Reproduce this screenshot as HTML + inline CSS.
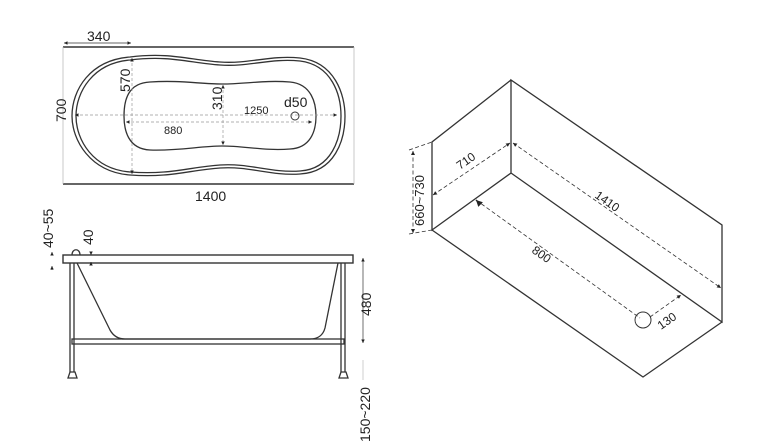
<!DOCTYPE html>
<html><head><style>
html,body{margin:0;padding:0;background:#fff;}
svg{display:block;}
text{font-family:"Liberation Sans",Arial,sans-serif;fill:#222;}
</style></head><body>
<svg width="765" height="448" viewBox="0 0 765 448" xmlns="http://www.w3.org/2000/svg">
<defs>
<marker id="ar" markerWidth="6" markerHeight="6" refX="5" refY="3" orient="auto-start-reverse"><path d="M0,0.5 L5,3 L0,5.5 z" fill="#222"/></marker>
</defs>
<g stroke="#333" fill="none" stroke-width="1.3">
<line x1="63" y1="47" x2="354" y2="47" stroke-width="1.6"/>
<line x1="63" y1="184" x2="354" y2="184" stroke-width="1.6"/>
<line x1="63" y1="47" x2="63" y2="184" stroke="#bbb" stroke-width="0.8"/>
<line x1="354" y1="47" x2="354" y2="184" stroke="#bbb" stroke-width="0.8"/>
<path d="M130,57 C170,52 190,60 220,62 C250,64 270,55 300,58 C335,62 345,95 345,116 C345,140 335,172 300,174 C270,176 250,166 220,168 C190,170 170,178 130,175 C90,172 72,140 72,116 C72,90 90,60 130,57 Z"/>
<path d="M130,60 C170,55 190,63 220,65 C250,67 270,58 300,61 C332,65 341,95 341,116 C341,138 332,169 300,171 C270,173 250,163 220,165 C190,167 170,175 130,172 C93,169 76,140 76,116 C76,92 93,63 130,60 Z"/>
<path d="M150,82 C180,80 200,84 222,84 C245,84 265,80 290,82 C312,84 316,104 316,116 C316,132 310,148 290,149 C265,151 245,146 222,146 C200,146 180,151 150,150 C128,149 124,130 124,116 C124,100 128,83 150,82 Z"/>
<circle cx="295" cy="116" r="4" stroke-width="1"/>
<g stroke="#999" stroke-width="0.7" stroke-dasharray="3,2">
<line x1="75" y1="115" x2="337" y2="115" marker-start="url(#ar)" marker-end="url(#ar)"/>
<line x1="126" y1="122" x2="312" y2="122" marker-start="url(#ar)" marker-end="url(#ar)"/>
<line x1="132" y1="58" x2="132" y2="174" marker-start="url(#ar)" marker-end="url(#ar)"/>
<line x1="223" y1="85" x2="223" y2="145" marker-start="url(#ar)" marker-end="url(#ar)"/>
</g>
<line x1="64" y1="43" x2="131" y2="43" stroke-width="0.7" marker-start="url(#ar)" marker-end="url(#ar)"/>
<rect x="63" y="255" width="290" height="8" stroke-width="1.4"/>
<path d="M72,255 C72,248 80,248 80,255"/>
<line x1="70" y1="263" x2="70" y2="372"/><line x1="74" y1="263" x2="74" y2="372"/>
<line x1="341" y1="263" x2="341" y2="372"/><line x1="345" y1="263" x2="345" y2="372"/>
<rect x="72" y="339" width="272" height="5"/>
<path d="M77,263 L110,330 Q115,339 125,339 L310,339 Q322,339 325,328 L338,263"/>
<path d="M68,378 L70,372 L75,372 L77,378 Z"/>
<path d="M339,378 L341,372 L346,372 L348,378 Z"/>
<line x1="363" y1="258" x2="363" y2="343" stroke-width="0.7" marker-start="url(#ar)" marker-end="url(#ar)"/>
<line x1="363" y1="360" x2="363" y2="380" stroke="#bbb" stroke-width="0.7"/>
<line x1="52" y1="255" x2="52" y2="252" stroke-width="0.7" marker-end="url(#ar)"/>
<line x1="52" y1="270" x2="52" y2="266" stroke-width="0.7" marker-end="url(#ar)"/>
<line x1="91" y1="252" x2="91" y2="255" stroke-width="0.7" marker-end="url(#ar)"/>
<line x1="91" y1="265" x2="91" y2="262" stroke-width="0.7" marker-end="url(#ar)"/>
<path d="M511,80 L432,142 L432,230 L511,173 L511,80 L722,225 L722,322 L511,173 M432,230 L643,377 L722,322"/>
<circle cx="643" cy="320" r="8" stroke-width="1"/>
<g stroke-width="0.8" stroke-dasharray="4,2.5">
<line x1="433" y1="195" x2="510" y2="143" marker-start="url(#ar)" marker-end="url(#ar)"/>
<line x1="513" y1="143" x2="721" y2="288" marker-start="url(#ar)" marker-end="url(#ar)"/>
<line x1="476" y1="200" x2="640" y2="318"/>
<line x1="650" y1="317" x2="681" y2="295" marker-end="url(#ar)"/>
<line x1="413" y1="151" x2="413" y2="233" marker-start="url(#ar)" marker-end="url(#ar)"/>
<line x1="409" y1="150" x2="432" y2="142"/>
<line x1="409" y1="234" x2="432" y2="230"/>
</g>
<line x1="476" y1="200" x2="477" y2="201" marker-start="url(#ar)"/>
</g>
<g font-size="14">
<text x="87" y="41">340</text>
<text x="195" y="201">1400</text>
<text transform="translate(66,122) rotate(-90)">700</text>
<text transform="translate(130,92) rotate(-90)">570</text>
<text transform="translate(222,110) rotate(-90)">310</text>
<text x="284" y="107">d50</text>
<text x="244" y="114" font-size="11">1250</text>
<text x="164" y="134" font-size="11">880</text>
<text transform="translate(53,248) rotate(-90)">40~55</text>
<text transform="translate(93,245) rotate(-90)">40</text>
<text transform="translate(371,316) rotate(-90)">480</text>
<text transform="translate(370,442) rotate(-90)">150~220</text>
<text transform="translate(424,226) rotate(-90)" font-size="13">660~730</text>
<text transform="translate(460,170) rotate(-35)" font-size="12">710</text>
<text transform="translate(594,197) rotate(35)" font-size="12">1410</text>
<text transform="translate(531,252) rotate(35)" font-size="12">800</text>
<text transform="translate(661,330) rotate(-35)" font-size="12">130</text>
</g>
</svg>
</body></html>
